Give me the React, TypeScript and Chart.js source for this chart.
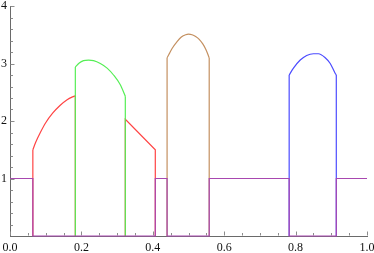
import { useEffect, useRef } from 'react';
import { Chart, registerables } from 'chart.js';

Chart.register(...registerables);

// Tick labels / positions
const xMajorTicks = [0, 0.2, 0.4, 0.6, 0.8, 1.0];
const xMinorTicks = [0.05, 0.1, 0.15, 0.25, 0.3, 0.35, 0.45, 0.5, 0.55, 0.65, 0.7, 0.75, 0.85, 0.9, 0.95];
const yMajorTicks = [1, 2, 3, 4];
const yMinorTicks = [0.2, 0.4, 0.6, 0.8, 1.2, 1.4, 1.6, 1.8, 2.2, 2.4, 2.6, 2.8, 3.2, 3.4, 3.6, 3.8];

// Breakpoints of the piecewise functions
const breaks = [0.064, 0.183, 0.323, 0.407, 0.44, 0.558, 0.782, 0.914];

// Red curve (first piece) and straight second piece
const redCurveX = [0.064, 0.072, 0.085, 0.1, 0.12, 0.14, 0.16, 0.175, 0.183];
const redCurveY = [1.5, 1.63, 1.8, 1.97, 2.14, 2.27, 2.37, 2.42, 2.44];
const redLineX = [0.323, 0.407];
const redLineY = [2.03, 1.5];

// Green dome
const greenX = [0.183, 0.194, 0.206, 0.22, 0.234, 0.253, 0.272, 0.29, 0.309, 0.323];
const greenY = [2.94, 3.01, 3.05, 3.06, 3.05, 3.0, 2.92, 2.8, 2.63, 2.43];

// Brown dome
const brownX = [0.44, 0.447, 0.454, 0.468, 0.48, 0.492, 0.5, 0.51, 0.52, 0.53, 0.54, 0.549, 0.558];
const brownY = [3.1, 3.18, 3.26, 3.38, 3.46, 3.5, 3.51, 3.5, 3.47, 3.42, 3.34, 3.24, 3.1];

// Blue dome
const blueX = [0.782, 0.794, 0.813, 0.831, 0.85, 0.864, 0.883, 0.897, 0.91, 0.914];
const blueY = [2.8, 2.92, 3.06, 3.14, 3.17, 3.17, 3.1, 3.0, 2.84, 2.8];

// Purple step function
const purpleX = [0, 0.064, 0.064, 0.407, 0.407, 0.44, 0.44, 0.558, 0.558, 0.782, 0.782, 0.914, 0.914, 1.0];
const purpleY = [1, 1, 0, 0, 1, 1, 0, 0, 1, 1, 0, 0, 1, 1];

const RED = '#ff4444';
const GREEN = '#55ee55';
const BROWN = '#c49060';
const BLUE = '#4b4bff';
const PURPLE = '#a848b0';

const pts = (xs: number[], ys: number[]) => xs.map((x, i) => ({ x, y: ys[i] }));
const vert = (x: number, yTop: number) => [{ x, y: 0 }, { x, y: yTop }];

const tickPlugin = {
  id: 'innerTicks',
  beforeDatasetsDraw(chart: any) {
    const { ctx, scales } = chart;
    const xs = scales.x;
    const ys = scales.y;
    const y0 = Math.round(ys.getPixelForValue(0)) - 0.5;
    const x0 = Math.round(xs.getPixelForValue(0)) + 0.5;
    ctx.save();
    ctx.strokeStyle = '#8c8c8c';
    ctx.lineWidth = 1;
    ctx.beginPath();
    const xt = (v: number, len: number) => {
      const p = Math.round(xs.getPixelForValue(v)) + 0.5;
      ctx.moveTo(p, y0);
      ctx.lineTo(p, y0 - len);
    };
    const yt = (v: number, len: number) => {
      const p = Math.round(ys.getPixelForValue(v)) + 0.5;
      ctx.moveTo(x0, p);
      ctx.lineTo(x0 + len, p);
    };
    xMajorTicks.forEach((v) => xt(v, 4));
    xMinorTicks.forEach((v) => xt(v, 2.5));
    yMajorTicks.forEach((v) => yt(v, 4));
    yMinorTicks.forEach((v) => yt(v, 2.5));
    ctx.stroke();
    ctx.restore();
  },
};

export default function App() {
  const ref = useRef<HTMLCanvasElement | null>(null);

  useEffect(() => {
    if (!ref.current) return;
    const [a, b, c, d, e, f, g, h] = breaks;
    const font = { family: "'Liberation Serif', 'DejaVu Serif', serif", size: 12 };
    const curve = (data: any[], color: string, order: number) => ({
      data,
      borderColor: color,
      borderWidth: 1.2,
      pointRadius: 0,
      cubicInterpolationMode: 'monotone' as const,
      fill: false,
      clip: false,
      order,
    });
    const straight = (data: any[], color: string, order: number) => ({
      data,
      borderColor: color,
      borderWidth: 1.2,
      pointRadius: 0,
      tension: 0,
      fill: false,
      clip: false,
      order,
    });
    const last = (arr: number[]) => arr[arr.length - 1];

    const chart = new Chart(ref.current, {
      type: 'line',
      data: {
        datasets: [
          straight(pts(purpleX, purpleY), PURPLE, 0),
          curve(pts(blueX, blueY), BLUE, 1),
          straight(vert(g, blueY[0]), BLUE, 1),
          straight(vert(h, last(blueY)), BLUE, 1),
          curve(pts(brownX, brownY), BROWN, 2),
          straight(vert(e, brownY[0]), BROWN, 2),
          straight(vert(f, last(brownY)), BROWN, 2),
          curve(pts(greenX, greenY), GREEN, 3),
          straight(vert(b, greenY[0]), GREEN, 3),
          straight(vert(c, last(greenY)), GREEN, 3),
          curve(pts(redCurveX, redCurveY), RED, 4),
          straight(vert(a, redCurveY[0]), RED, 4),
          straight(vert(b, last(redCurveY)), RED, 4),
          straight([{ x: c, y: 0 }, ...pts(redLineX, redLineY), { x: d, y: 0 }], RED, 4),
        ] as any,
      },
      options: {
        animation: false,
        responsive: true,
        maintainAspectRatio: false,
        devicePixelRatio: 1,
        parsing: false,
        layout: { padding: { top: 6, right: 7, left: 0, bottom: 0 } },
        plugins: { legend: { display: false }, tooltip: { enabled: false } },
        events: [],
        scales: {
          x: {
            type: 'linear',
            min: 0,
            max: 1,
            grid: { display: false, drawTicks: false },
            border: { display: true, color: '#6a6a6a', width: 1 },
            ticks: {
              stepSize: 0.2,
              padding: 5,
              color: '#111',
              font,
              autoSkip: false,
              maxRotation: 0,
              callback: (v: any) => {
                const i = xMajorTicks.findIndex((t) => Math.abs(t - Number(v)) < 1e-6);
                return i >= 0 ? Number(xMajorTicks[i]).toFixed(1) : '';
              },
            },
            afterFit: (s: any) => {
              s.height = 17;
              s.paddingLeft = 0;
              s.paddingRight = 0;
            },
          },
          y: {
            type: 'linear',
            min: 0,
            max: 4,
            grid: { display: false, drawTicks: false },
            border: { display: true, color: '#6a6a6a', width: 1 },
            ticks: {
              stepSize: 1,
              padding: 3,
              color: '#111',
              font,
              callback: (v: any) => (yMajorTicks.includes(Number(v)) ? String(v) : ''),
            },
            afterFit: (s: any) => {
              s.width = 10;
              s.paddingTop = 0;
              s.paddingBottom = 0;
            },
          },
        },
      },
      plugins: [tickPlugin],
    });
    return () => chart.destroy();
  }, []);

  return (
    <div style={{ position: 'fixed', left: 0, top: 0, width: 374, height: 253 }}>
      <canvas ref={ref} />
    </div>
  );
}
